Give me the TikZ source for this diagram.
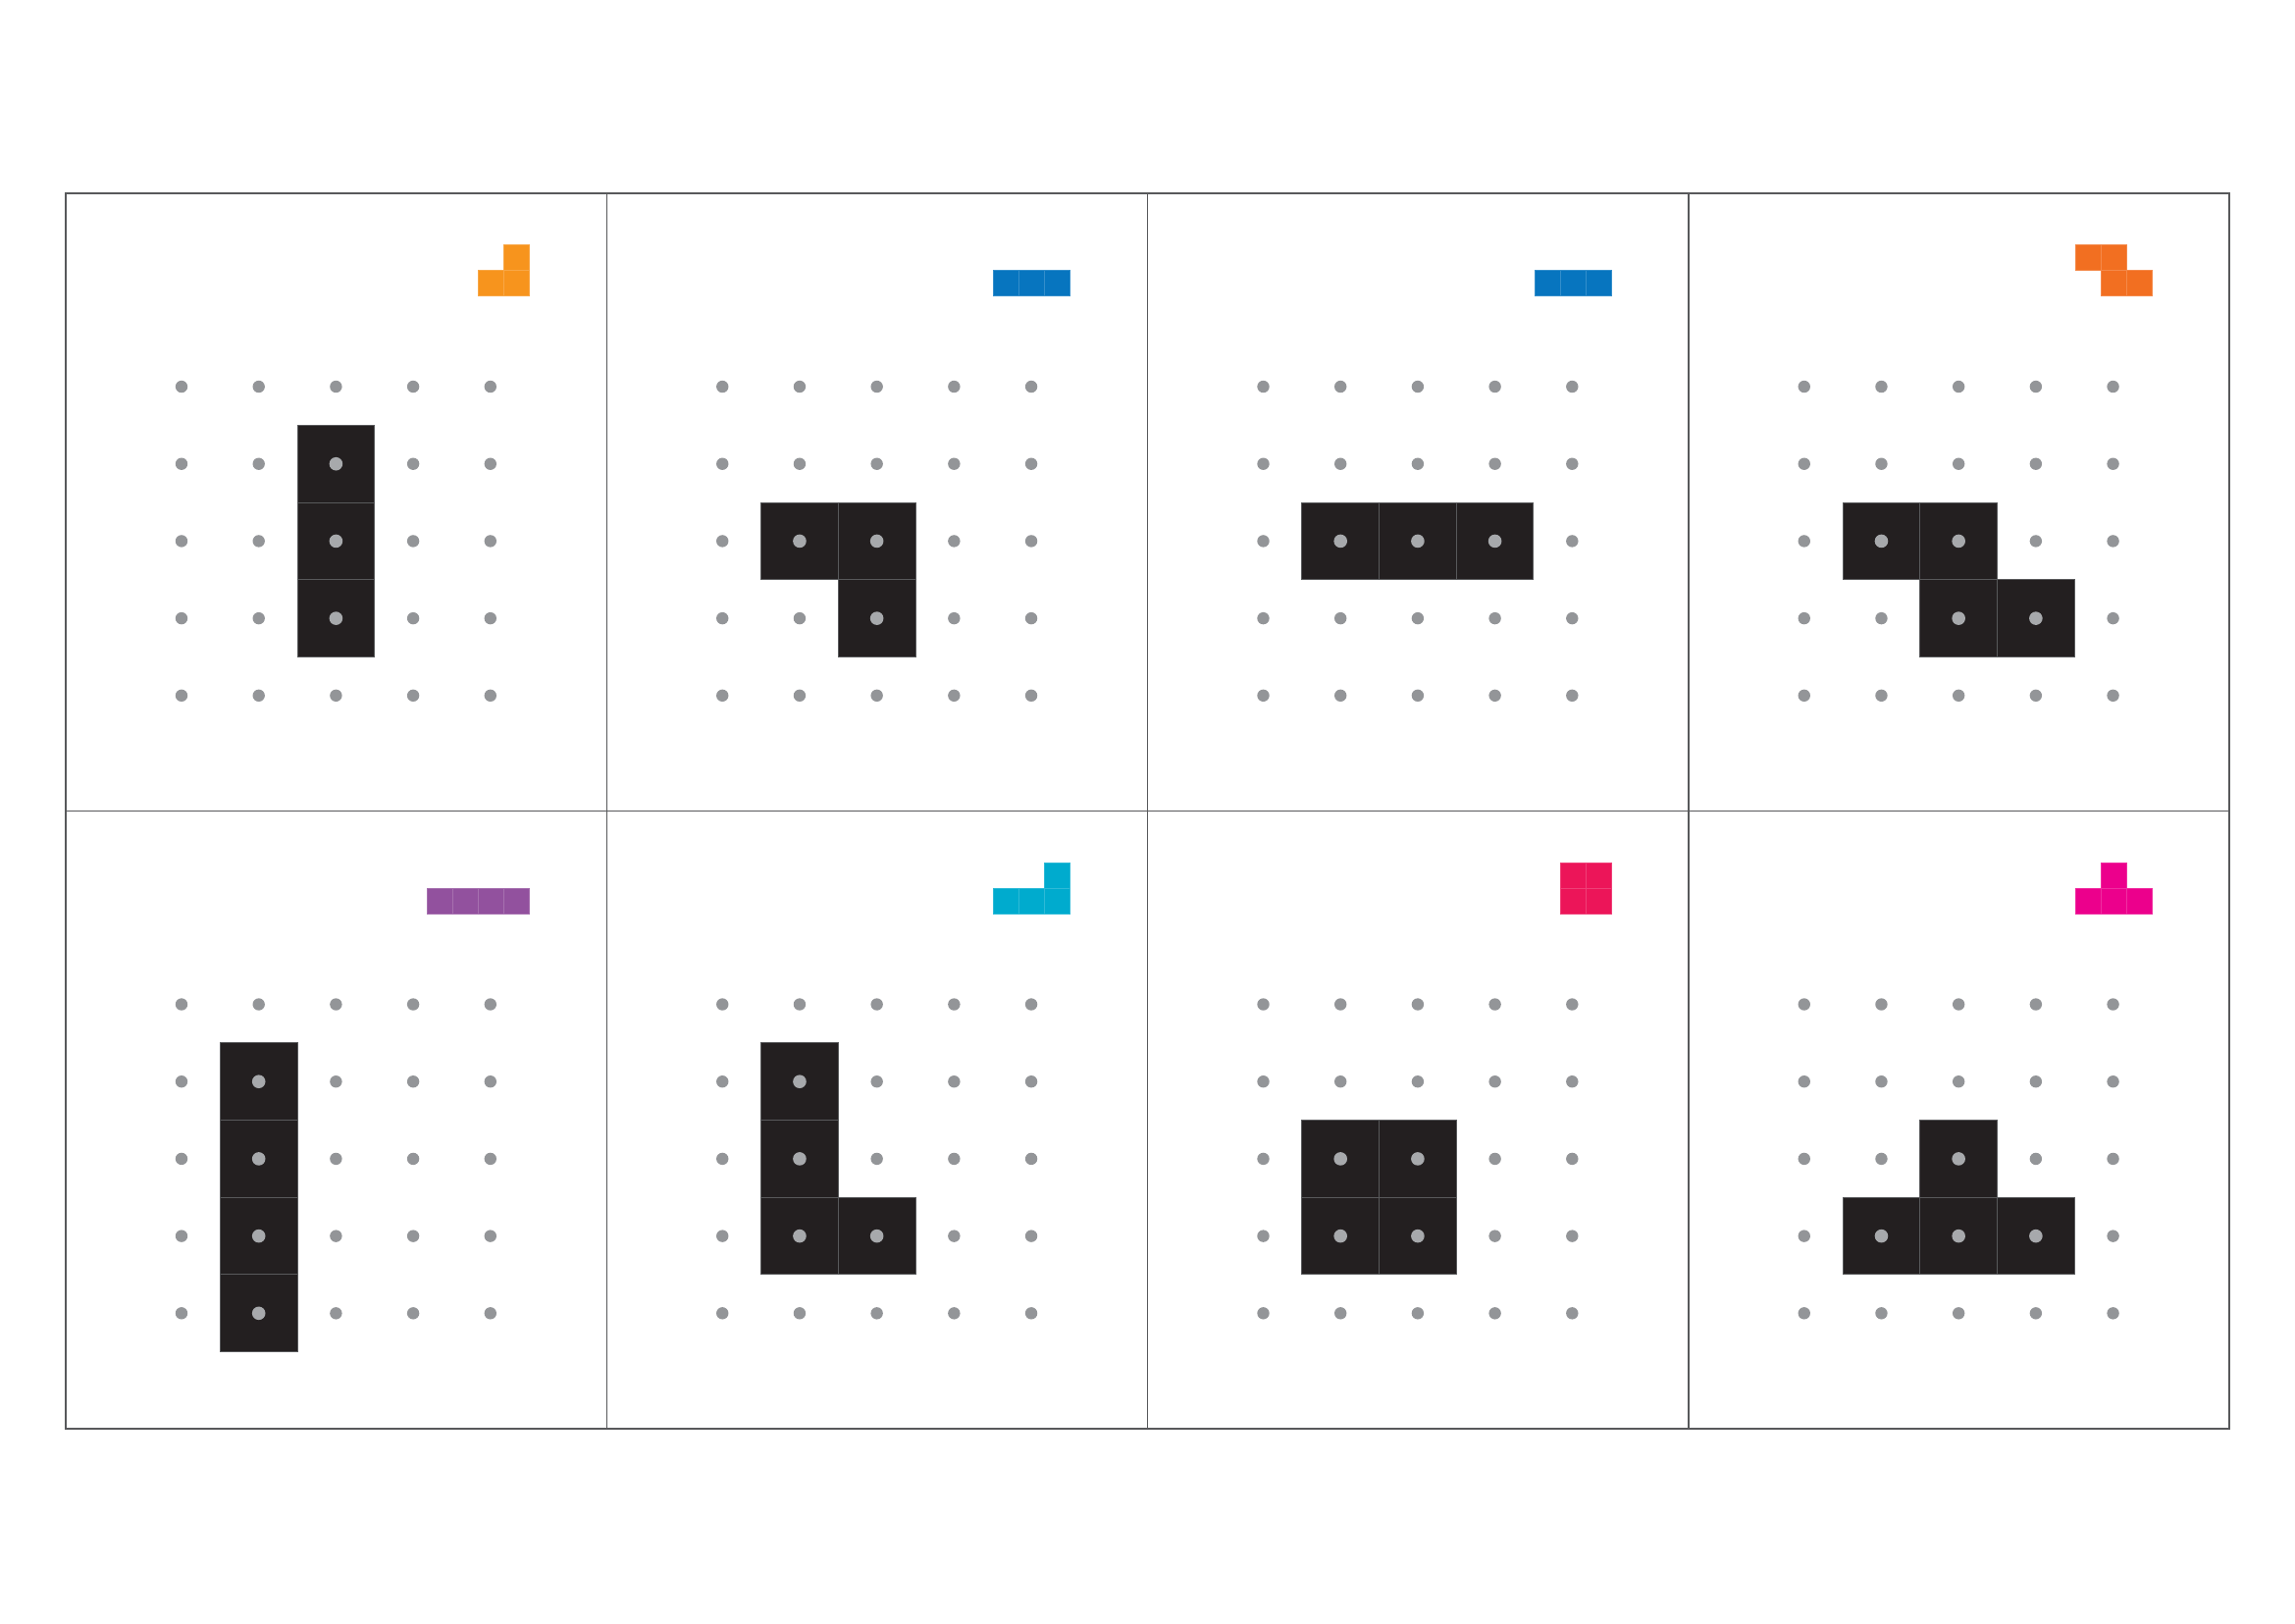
\documentclass[tikz,border=0pt]{standalone}
\definecolor{cellblack}{HTML}{231F20}
\definecolor{dotgray}{HTML}{939598}
\definecolor{dotlight}{HTML}{A7A9AC}
\definecolor{framegray}{HTML}{58595B}
\definecolor{sepgray}{HTML}{58595B}
\definecolor{iconorange}{HTML}{F7941D}
\definecolor{iconblue}{HTML}{0775BF}
\definecolor{iconredorange}{HTML}{F26F21}
\definecolor{iconpurple}{HTML}{92519E}
\definecolor{iconcyan}{HTML}{00ABCE}
\definecolor{iconred}{HTML}{EC1559}
\definecolor{iconmagenta}{HTML}{EC008C}
\tikzset{
  panelframe/.style={draw=framegray, line width=0.15mm},
  blackcell/.style={fill=cellblack, draw=sepgray, line width=0.1mm},
  griddot/.style={fill=dotgray},
  celldot/.style={fill=dotlight},
}
\newcommand{\tilepanel}[5]{%
  \begin{scope}[shift={({67+#1*551.25},{197+#2*629.5})}]
    \draw[panelframe] (0,0) rectangle (551.25,629.5);
    \foreach \i in {0,...,4}{\foreach \j in {0,...,4}{
      \fill[griddot] ({118+\i*78.7},{197+\j*78.7}) circle (0.62mm);}}
    \foreach \i/\j in {#3}{
      \filldraw[blackcell] ({118+\i*78.7-39.35},{197+\j*78.7-39.35}) rectangle ({118+\i*78.7+39.35},{197+\j*78.7+39.35});
      \fill[celldot] ({118+\i*78.7},{197+\j*78.7}) circle (0.68mm);}
    \foreach \a/\b in {#5}{
      \filldraw[fill=#4, draw=#4!82!white, line width=0.06mm] ({472.5-(\a+1)*26},{104.5-(\b+1)*26}) rectangle ({472.5-\a*26},{104.5-\b*26});}
  \end{scope}}
\begin{document}
\begin{tikzpicture}[x=0.1mm, y=-0.1mm]
  \useasboundingbox (0,0) rectangle (2339,1654);
  \fill[white] (0,0) rectangle (2339,1654);
  \tilepanel{0}{0}{2/1,2/2,2/3}{iconorange}{0/1,0/0,1/0}
  \tilepanel{1}{0}{1/2,2/2,2/3}{iconblue}{0/0,1/0,2/0}
  \tilepanel{2}{0}{1/2,2/2,3/2}{iconblue}{0/0,1/0,2/0}
  \tilepanel{3}{0}{1/2,2/2,2/3,3/3}{iconredorange}{2/1,1/1,1/0,0/0}
  \tilepanel{0}{1}{1/1,1/2,1/3,1/4}{iconpurple}{0/0,1/0,2/0,3/0}
  \tilepanel{1}{1}{1/1,1/2,1/3,2/3}{iconcyan}{0/1,0/0,1/0,2/0}
  \tilepanel{2}{1}{1/2,2/2,1/3,2/3}{iconred}{0/0,1/0,0/1,1/1}
  \tilepanel{3}{1}{2/2,1/3,2/3,3/3}{iconmagenta}{1/1,0/0,1/0,2/0}
\end{tikzpicture}
\end{document}
